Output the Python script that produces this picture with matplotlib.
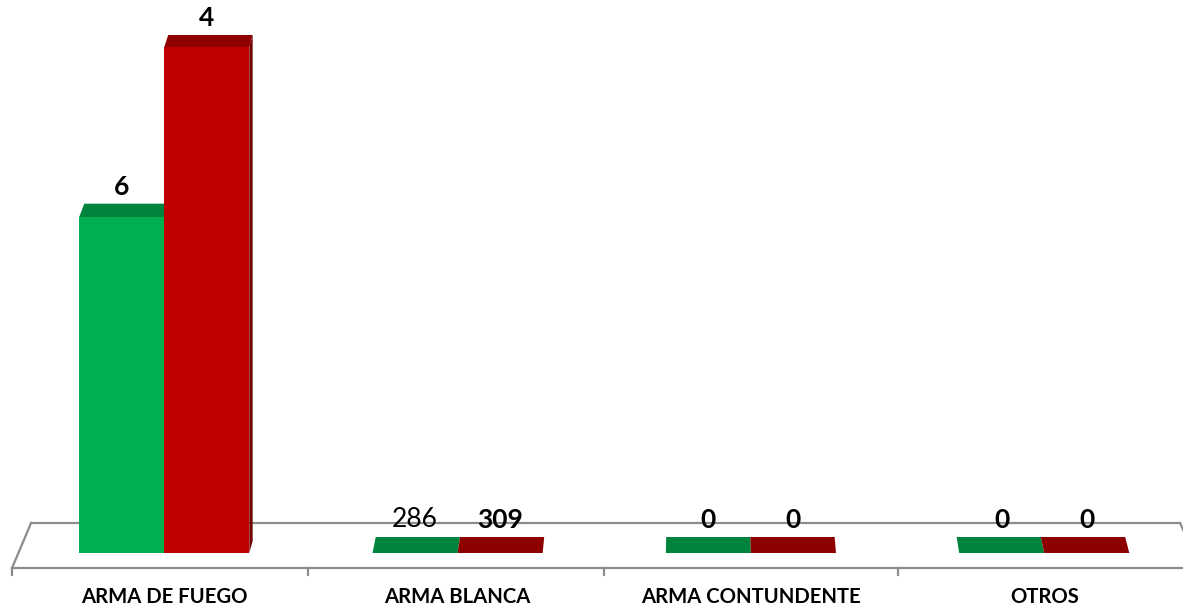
import matplotlib
matplotlib.use("Agg")
import matplotlib.pyplot as plt
from matplotlib.patches import Polygon

# data (bar heights in relative units, red bar = 100)
categories = ["ARMA DE FUEGO", "ARMA BLANCA", "ARMA CONTUNDENTE", "OTROS"]
green_heights = [66.4, 0, 0, 0]
red_heights = [100, 0, 0, 0]
# printed value labels (as shown on the chart)
green_labels = ["6", "286", "0", "0"]
red_labels = ["4", "309", "0", "0"]
green_label_bold = [True, False, True, True]
red_label_bold = [True, True, True, True]

GREEN_FRONT, GREEN_TOP = "#00B050", "#00843D"
RED_FRONT, RED_TOP, RED_SIDE = "#C00000", "#8E0000", "#6E0000"
FLOOR = "#8C8C8C"

# pixel -> data scale (figure 1183x609 at dpi 100, axes fill the figure)
PX_X = 1 / 293.3
PX_Y = 1 / 5.06
VP_X = 1.826          # horizontal vanishing point (data units)
K = 0.000613          # sideways shift per pixel of depth

fig = plt.figure(figsize=(11.83, 6.09), dpi=100)
ax = fig.add_axes([0, 0, 1, 1])
ax.set_xlim(-0.560, 3.473)
ax.set_ylim(-11.07, 109.29)
ax.axis("off")


def shift(x, depth_px):
    return (VP_X - x) * K * depth_px


# floor (3D base plane)
floor_back = 30 * PX_Y
floor_front = -15 * PX_Y
back_l, back_r = -0.454, 3.463
front_l, front_r = -0.519, 3.463 + 20 * PX_X
ax.plot([back_l, back_r], [floor_back, floor_back], color=FLOOR, lw=1.6, zorder=1)
ax.plot([front_l, 3.6], [floor_front, floor_front], color=FLOOR, lw=1.6, zorder=1)
ax.plot([back_l, front_l], [floor_back, floor_front], color=FLOOR, lw=1.6, zorder=1)
ax.plot([back_r, front_r], [floor_back, floor_front], color=FLOOR, lw=1.6, zorder=1)
for b in [-0.519, 0.49, 1.5, 2.5]:
    ax.plot([b, b], [floor_front, floor_front - 7 * PX_Y], color=FLOOR, lw=1.6, zorder=1)

width = 0.29
x = list(range(len(categories)))


def draw_bar(xl, h, front, top, side, label, bold):
    xr = xl + width
    depth = 16 - 4 * h / 100
    dy = depth * PX_Y
    sl, sr = shift(xl, depth), shift(xr, depth)
    if h > 0:
        if sr > 0:
            ax.add_patch(Polygon([(xr, 0), (xr + sr, dy), (xr + sr, h + dy), (xr, h)],
                                 closed=True, facecolor=side, edgecolor="none", zorder=2))
        elif sl < 0:
            ax.add_patch(Polygon([(xl, 0), (xl + sl, dy), (xl + sl, h + dy), (xl, h)],
                                 closed=True, facecolor=side, edgecolor="none", zorder=2))
    ax.bar(xl, h, width=width, align="edge", color=front, edgecolor="none", zorder=2)
    ax.add_patch(Polygon([(xl, h), (xr, h), (xr + sr, h + dy), (xl + sl, h + dy)],
                         closed=True, facecolor=top, edgecolor="none", zorder=2))
    ax.text(xl + width / 2, h + dy + 5 * PX_Y, label, ha="center", va="bottom",
            fontsize=19, fontweight="bold" if bold else "normal",
            family="Lato", color="black", zorder=10)


for i in x:
    draw_bar(i - width, green_heights[i], GREEN_FRONT, GREEN_TOP, GREEN_TOP,
             green_labels[i], green_label_bold[i])
    draw_bar(i, red_heights[i], RED_FRONT, RED_TOP, RED_SIDE,
             red_labels[i], red_label_bold[i])
    ax.text(i, -44 * PX_Y, categories[i], ha="center", va="center",
            fontsize=14.6, fontweight="bold", family="Lato", color="black")

fig.savefig("out.png", dpi=100)
